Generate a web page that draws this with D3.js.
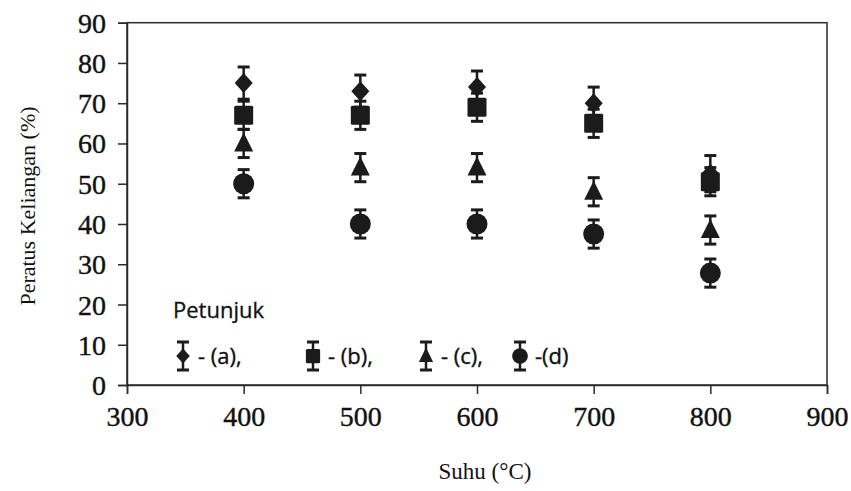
<!DOCTYPE html>
<html><head><meta charset="utf-8">
<script src="https://cdn.jsdelivr.net/npm/d3@7"></script>
<style>body{margin:0;background:#fff}svg{display:block}</style>
</head><body>
<svg id="chart" width="851" height="491"></svg>
<script>
const temps = [400, 500, 600, 700, 800];
const seriesA = [75, 73, 74, 70, 52.5];
const seriesB = [67, 67, 69, 65, 50.5];
const seriesC = [60, 54, 54, 48, 38.5];
const seriesD = [50, 40, 40, 37.5, 27.8];
const errA = [4, 4, 4, 4, 4.5];
const errB = [3.5, 3.5, 3.5, 3.5, 3.5];
const errC = [3.5, 3.5, 3.5, 3.5, 3.5];
const errD = [3.5, 3.5, 3.5, 3.5, 3.5];
const xTicks = [300, 400, 500, 600, 700, 800, 900];
const yTicks = [0, 10, 20, 30, 40, 50, 60, 70, 80, 90];
const legendLabels = ["- (a),", "- (b),", "- (c),", "-(d)"];

const svg = d3.select("#chart");
const x = d3.scaleLinear().domain([300, 900]).range([127, 827]);
const y = d3.scaleLinear().domain([0, 90]).range([385, 22.7]);
const ink = "#1b1b1b";

// frame
svg.append("rect").attr("x", 127).attr("y", 22.7).attr("width", 700).attr("height", 362.3)
  .attr("fill", "none").attr("stroke", "#2a2a2a").attr("stroke-width", 1.5);

// axes
const xAxis = svg.append("g").attr("transform", "translate(0,385)")
  .call(d3.axisBottom(x).tickValues(xTicks).tickSize(9).tickPadding(12).tickFormat(d3.format("d")));
const yAxis = svg.append("g").attr("transform", "translate(127,0)")
  .call(d3.axisLeft(y).tickValues(yTicks).tickSize(9).tickPadding(12).tickFormat(d3.format("d")));
[xAxis, yAxis].forEach(g => {
  g.select(".domain").attr("stroke", "#2a2a2a").attr("stroke-width", 1.5);
  g.selectAll(".tick line").attr("stroke", "#2a2a2a").attr("stroke-width", 1.5);
  g.selectAll(".tick text").attr("fill", "#111").attr("stroke", "#111").attr("stroke-width", 0.4)
    .style("font-family", "'Liberation Serif', 'DejaVu Serif', serif").style("font-size", "28px");
});
xAxis.selectAll(".tick text").attr("dy", "0.71em");
yAxis.selectAll(".tick text").attr("dy", "0.34em");

// axis titles
svg.append("text").attr("x", 485).attr("y", 479).attr("text-anchor", "middle")
  .style("font-family", "'Liberation Serif', serif").style("font-size", "23px").attr("fill", "#111")
  .text("Suhu (°C)");
svg.append("text").attr("transform", "translate(35,206) rotate(-90)").attr("text-anchor", "middle")
  .style("font-family", "'Liberation Serif', serif").style("font-size", "22px").attr("fill", "#111")
  .text("Peratus Keliangan (%)");

const series = [
  {key: "a", vals: seriesA, err: errA},
  {key: "b", vals: seriesB, err: errB},
  {key: "c", vals: seriesC, err: errC},
  {key: "d", vals: seriesD, err: errD}
];

function drawMarker(g, key, cx, cy, scale) {
  let p;
  if (key === "a") {
    const w = 9 * scale, h = 10 * scale;
    p = `M${cx},${cy - h}L${cx + w},${cy}L${cx},${cy + h}L${cx - w},${cy}Z`;
    g.append("path").attr("d", p).attr("fill", ink);
  } else if (key === "b") {
    const s = 9.5 * scale;
    g.append("rect").attr("x", cx - s).attr("y", cy - s).attr("width", 2 * s).attr("height", 2 * s)
      .attr("rx", 1.5).attr("fill", ink);
  } else if (key === "c") {
    const w = 9.5 * scale, h = 10 * scale;
    p = `M${cx},${cy - h - 1}L${cx + w},${cy + h * 0.8}L${cx - w},${cy + h * 0.8}Z`;
    g.append("path").attr("d", p).attr("fill", ink);
  } else {
    g.append("circle").attr("cx", cx).attr("cy", cy).attr("r", 10.5 * scale).attr("fill", ink);
  }
}

function drawErr(g, cx, cTop, cBot, capW) {
  g.append("line").attr("x1", cx).attr("x2", cx).attr("y1", cTop).attr("y2", cBot)
    .attr("stroke", ink).attr("stroke-width", 2.5);
  [cTop, cBot].forEach(cy => g.append("line").attr("x1", cx - capW / 2).attr("x2", cx + capW / 2)
    .attr("y1", cy).attr("y2", cy).attr("stroke", ink).attr("stroke-width", 3));
}

const plot = svg.append("g");
series.forEach(s => {
  temps.forEach((t, i) => {
    drawErr(plot, x(t), y(s.vals[i] + s.err[i]), y(s.vals[i] - s.err[i]), 12);
  });
});
series.forEach(s => {
  temps.forEach((t, i) => drawMarker(plot, s.key, x(t), y(s.vals[i]), 1));
});

// legend
const legFont = "'Open Sans', 'Noto Sans', sans-serif";
svg.append("text").attr("x", 173).attr("y", 318)
  .style("font-family", legFont).style("font-size", "22px").attr("fill", "#111")
  .attr("stroke", "#111").attr("stroke-width", 0.3)
  .text("Petunjuk");
const legX = [183, 313, 426, 520];
const legY = 356;
series.forEach((s, i) => {
  const lg = svg.append("g");
  drawErr(lg, legX[i], legY - 14, legY + 14, 12);
  drawMarker(lg, s.key, legX[i], legY, 0.75);
  lg.append("text").attr("x", legX[i] + 15).attr("y", legY + 8)
    .style("font-family", legFont).style("font-size", "22px").attr("fill", "#111")
    .attr("stroke", "#111").attr("stroke-width", 0.35)
    .text(legendLabels[i]);
});
</script>
</body></html>
